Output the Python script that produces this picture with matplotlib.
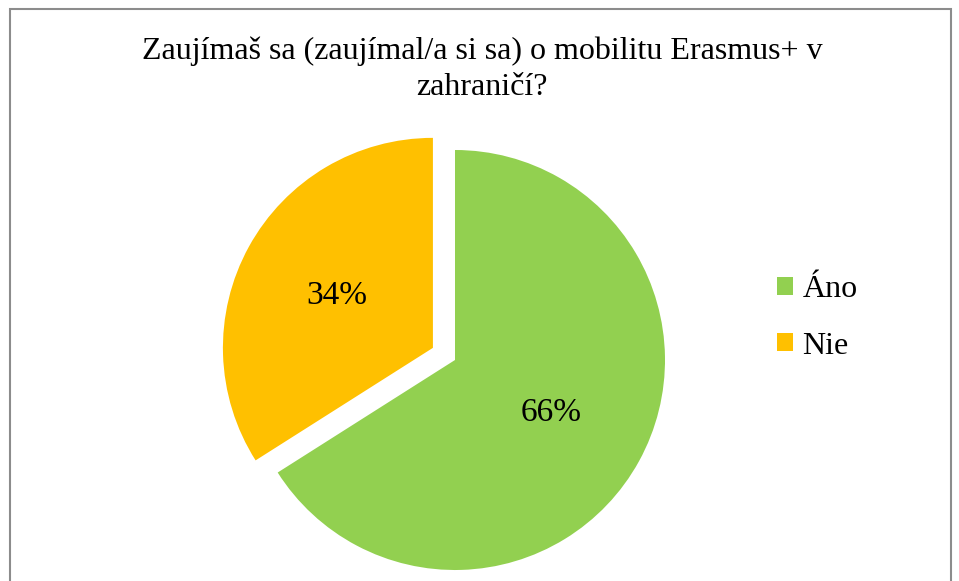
import matplotlib.pyplot as plt
from matplotlib.patches import Rectangle

labels = ['Áno', 'Nie']
values = [66, 34]
colors = ['#92D050', '#FFC000']
title = 'Zaujímaš sa (zaujímal/a si sa) o mobilitu Erasmus+ v\nzahraničí?'

plt.rcParams['font.family'] = ['Liberation Serif', 'DejaVu Serif']

W, H = 959, 581
fig = plt.figure(figsize=(W / 100, H / 100), dpi=100)

# outer chart frame
fig.patches.append(Rectangle((10 / W, -0.05), 941 / W, 1.05 - 9 / H,
                             transform=fig.transFigure, fill=False,
                             edgecolor='#8c8c8c', linewidth=1.5))

fig.text(482 / W, 1 - 69 / H, title, ha='center', va='center',
         fontsize=23, linespacing=1.3)

ax = fig.add_axes([245 / W, 11 / H, 420 / W, 420 / H])
wedges, texts, autotexts = ax.pie(values, colors=colors, startangle=90,
                                  counterclock=False, explode=[0, 0.12],
                                  autopct='%1.0f%%', pctdistance=0.52,
                                  textprops={'fontsize': 24})
for w in wedges:
    w.set_clip_on(False)
ax.set_xlim(-1, 1)
ax.set_ylim(-1, 1)
ax.set_aspect('equal')
ax.axis('off')

leg = fig.legend(wedges, labels, loc='center left',
                 bbox_to_anchor=(748 / W, 1 - 318 / H), frameon=False,
                 fontsize=23, handlelength=0.5, handleheight=0.5,
                 handletextpad=0.3, labelspacing=0.85)

fig.savefig('out.png', dpi=100)
